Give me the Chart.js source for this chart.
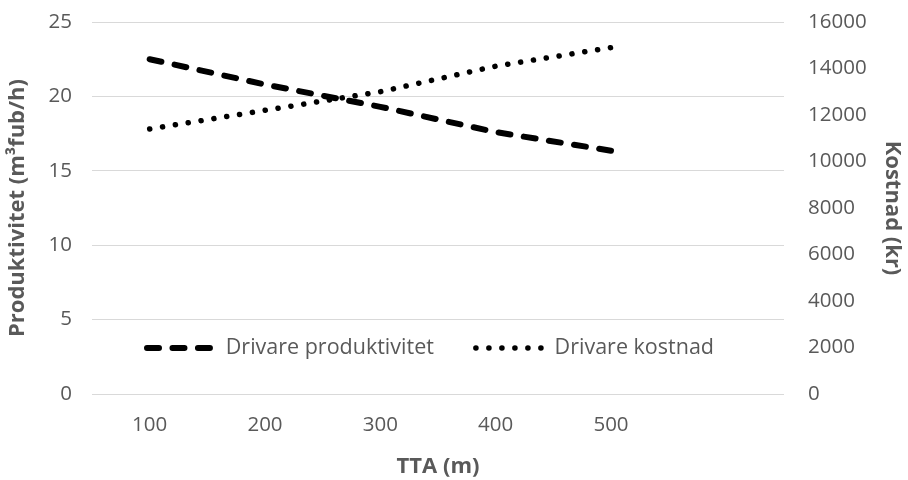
<!DOCTYPE html>
<html>
<head>
<meta charset="utf-8">
<script src="https://cdn.jsdelivr.net/npm/chart.js@4.4.1/dist/chart.umd.min.js"></script>
<style>
  html, body { margin: 0; padding: 0; background: #fff; }
  #wrap { width: 908px; height: 480px; position: relative; }
</style>
</head>
<body>
<div id="wrap"><canvas id="chart"></canvas></div>
<script>
// TTA categories (last slot is empty in the original)
const ttaLabels = ['100', '200', '300', '400', '500', ''];
const produktivitet = [22.5, 20.8, 19.3, 17.6, 16.35, null];
const kostnad = [11400, 12200, 13000, 14100, 14900, null];

const textColor = '#595959';
const gridColor = '#d9d9d9';

Chart.defaults.font.family = "'Open Sans', sans-serif";
Chart.defaults.color = textColor;

// legend sits inside the plot area in one row, like the original
const legendMover = {
    id: 'legendMover',
    beforeLayout(chart) {
        if (chart.legend) chart.legend.isHorizontal = () => true;
    },
    afterLayout(chart) {
        const lg = chart.legend;
        if (!lg) return;
        const area = chart.chartArea;
        const h = lg.height;
        lg.left = area.left + 13;
        lg.right = area.right;
        lg.top = area.bottom - 62 - h / 2;
        lg.bottom = lg.top + h;
    }
};

new Chart(document.getElementById('chart'), {
    type: 'line',
    data: {
        labels: ttaLabels,
        datasets: [{
            label: 'Drivare produktivitet',
            data: produktivitet,
            yAxisID: 'y',
            borderColor: '#000',
            backgroundColor: '#000',
            borderWidth: 6,
            borderDash: [12, 13.47],
            borderCapStyle: 'round',
            pointRadius: 0,
            tension: 0
        }, {
            label: 'Drivare kostnad',
            data: kostnad,
            yAxisID: 'y1',
            borderColor: '#000',
            backgroundColor: '#000',
            borderWidth: 5.5,
            borderDash: [0.1, 12.9],
            borderCapStyle: 'round',
            pointRadius: 0,
            tension: 0
        }]
    },
    options: {
        responsive: true,
        maintainAspectRatio: false,
        animation: false,
        layout: { padding: { top: 22 } },
        plugins: {
            tooltip: { enabled: false },
            legend: {
                position: 'chartArea',
                align: 'start',
                labels: {
                    usePointStyle: true,
                    pointStyle: 'line',
                    pointStyleWidth: 68,
                    padding: 42,
                    color: textColor,
                    font: { size: 21.5 },
                    generateLabels: (chart) => chart.data.datasets.map((ds, i) => ({
                        text: ds.label,
                        datasetIndex: i,
                        hidden: false,
                        fillStyle: ds.borderColor,
                        strokeStyle: ds.borderColor,
                        lineWidth: ds.borderWidth,
                        lineDash: ds.borderDash,
                        lineCap: ds.borderCapStyle,
                        pointStyle: 'line',
                        fontColor: textColor
                    }))
                }
            }
        },
        scales: {
            x: {
                offset: true,
                grid: { display: false },
                border: { display: false },
                ticks: { padding: 11, font: { size: 20.5 }, color: textColor, maxRotation: 0 },
                title: {
                    display: true,
                    text: 'TTA (m)',
                    color: textColor,
                    font: { size: 22, weight: 'bold' },
                    padding: { top: 0, bottom: 0 }
                },
                afterFit: (s) => { s.height = 86; }
            },
            y: {
                position: 'left',
                min: 0,
                max: 25,
                ticks: { stepSize: 5, padding: 20, font: { size: 20.5 }, color: textColor },
                grid: { color: gridColor, lineWidth: 1, drawTicks: false },
                border: { display: false },
                title: {
                    display: true,
                    text: 'Produktivitet (m³fub/h)',
                    color: textColor,
                    font: { size: 22, weight: 'bold' },
                    padding: { top: 5, bottom: 0 }
                },
                afterFit: (s) => { s.width = 92; s.paddingTop = 0; s.paddingBottom = 0; }
            },
            y1: {
                position: 'right',
                min: 0,
                max: 16000,
                ticks: { stepSize: 2000, padding: 24, font: { size: 20.5 }, color: textColor, format: { useGrouping: false } },
                grid: { drawOnChartArea: false, drawTicks: false },
                border: { display: false },
                title: {
                    display: true,
                    text: 'Kostnad (kr)',
                    color: textColor,
                    font: { size: 22, weight: 'bold' },
                    padding: { top: 3, bottom: 0 }
                },
                afterFit: (s) => { s.width = 124; s.paddingTop = 0; s.paddingBottom = 0; }
            }
        }
    },
    plugins: [legendMover]
});
</script>
</body>
</html>
